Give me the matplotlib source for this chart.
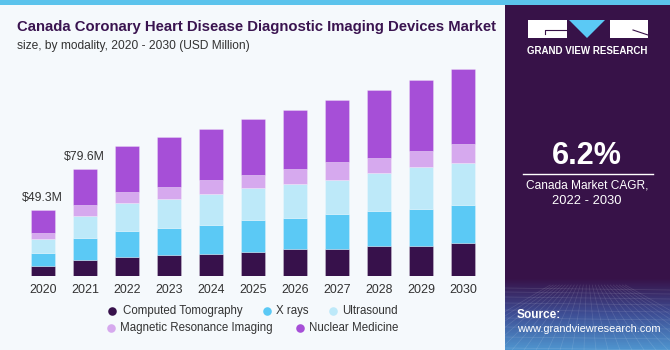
import matplotlib
matplotlib.use("Agg")
import matplotlib.pyplot as plt
import numpy as np
from matplotlib.patches import Rectangle, Polygon
from matplotlib.colors import LinearSegmentedColormap

years = ["2020", "2021", "2022", "2023", "2024", "2025", "2026", "2027", "2028", "2029", "2030"]
segments = ["Computed Tomography", "X rays", "Ultrasound", "Magnetic Resonance Imaging", "Nuclear Medicine"]
ct = [7.5, 12.1, 14.3, 15.6, 16.6, 17.8, 20.1, 20.1, 22.0, 22.0, 24.2]
xray = [9.9, 16.3, 19.1, 20.1, 21.5, 23.5, 23.0, 25.7, 26.0, 27.8, 28.8]
us = [10.2, 16.1, 20.8, 21.5, 22.5, 23.8, 25.5, 25.6, 28.2, 30.9, 31.0]
mri = [4.3, 8.2, 8.4, 8.9, 10.6, 10.2, 11.1, 13.6, 11.7, 12.4, 13.8]
nm = [17.4, 26.9, 34.0, 37.4, 37.9, 41.4, 43.6, 45.8, 50.0, 52.8, 56.0]
labels_shown = {0: "$49.3M", 1: "$79.6M"}

colors = ["#37114B", "#5BC9F5", "#BDE9F9", "#D6A9EE", "#A64FD7"]
BG = "#F5F9FC"
PANEL = "#371248"
FONT = "Liberation Sans"

W, H = 670, 350
fig = plt.figure(figsize=(W / 100, H / 100), dpi=100)
fig.patch.set_facecolor(BG)
renderer = fig.canvas.get_renderer()


def fit(t, target):
    fs = t.get_fontsize()
    w = t.get_window_extent(renderer=renderer).width
    t.set_fontsize(fs * target / w)
    return t


ov = fig.add_axes([0, 0, 1, 1], zorder=0)
ov.set_xlim(0, W)
ov.set_ylim(H, 0)
ov.axis("off")
ov.add_patch(Rectangle((0, 0), W, 5, color="#5BC3EC", lw=0))
ov.add_patch(Rectangle((505, 5), W - 505, H - 5, color=PANEL, lw=0))
grad = np.linspace(0, 1, 100)[:, None]
cmap = LinearSegmentedColormap.from_list("g", [PANEL, "#3E4E95", "#4F95CF"])
ov.imshow(grad, extent=(505, W, H, 278), aspect="auto", cmap=cmap, zorder=1)
for xs in np.linspace(440, 740, 26):
    ov.plot([587 + (xs - 587) * 0.25, xs], [285, H], color="white", alpha=0.12, lw=0.5, zorder=2)
for yy in [288, 292, 297, 303, 310, 318, 327, 337, 348]:
    ov.plot([505, W], [yy, yy + 2], color="white", alpha=0.12, lw=0.5, zorder=2)
ov.set_xlim(0, W)
ov.set_ylim(H, 0)

# logo
ov.add_patch(Rectangle((527.5, 20), 39, 17.5, color="white", lw=0, zorder=3))
ov.add_patch(Polygon([[569, 20], [605, 20], [587, 38]], closed=True, color="#5BC9F5", lw=0, zorder=3))
ov.add_patch(Rectangle((610, 20), 38, 17.5, color="white", lw=0, zorder=3))
ov.plot([545, 545, 566.5], [34, 30, 30], color=PANEL, lw=0.8, zorder=4)
ov.plot([633, 648], [30, 35], color=PANEL, lw=0.8, zorder=4)
fit(ov.text(587.5, 50.5, "GRAND VIEW RESEARCH", color="white", fontsize=7.2, fontweight="bold",
            ha="center", va="center", family=FONT, zorder=4), 121)

fit(ov.text(587, 156.5, "6.2%", color="white", fontsize=21, fontweight="bold", ha="center", va="center",
            family=FONT, zorder=4), 70)
ov.plot([522.5, 652.5], [173.5, 173.5], color="white", lw=1, zorder=4)
fit(ov.text(587, 186, "Canada Market CAGR,", color="white", fontsize=9.5, ha="center", va="center",
            family=FONT, zorder=4), 122)
ov.text(587, 201, "2022 - 2030", color="white", fontsize=9.3, ha="center", va="center",
        family=FONT, zorder=4)
ov.text(517, 315.5, "Source:", color="white", fontsize=8.6, fontweight="bold", ha="left", va="center",
        family=FONT, zorder=4)
fit(ov.text(517, 329.5, "www.grandviewresearch.com", color="white", fontsize=9, ha="left", va="center",
            family=FONT, zorder=4), 143)

# titles
fit(ov.text(17, 27.5, "Canada Coronary Heart Disease Diagnostic Imaging Devices Market", color="#3A1450",
            fontsize=12, fontweight="bold", ha="left", va="center", family=FONT, zorder=4), 480)
fit(ov.text(17, 46, "size, by modality, 2020 - 2030 (USD Million)", color="#333333", fontsize=9.3,
            ha="left", va="center", family=FONT, zorder=4), 232)

# main axes
ax = fig.add_axes([15 / W, (H - 276) / H, 475 / W, 216 / H], zorder=2)
ax.patch.set_alpha(0)
x = np.arange(len(years))
bottom = np.zeros(len(years))
for vals, c in zip([ct, xray, us, mri, nm], colors):
    ax.bar(x, vals, bottom=bottom, width=0.571, color=c, edgecolor=(1, 1, 1, 0.35), linewidth=0.5)
    bottom += np.array(vals)
ax.set_xlim(-0.671, 10.636)
ax.set_ylim(0, 160.5)
ax.axis("off")
for i, lab in labels_shown.items():
    fit(ax.text(x[i] - 0.03, bottom[i] + 8.5, lab, ha="center", va="center", fontsize=9.8, color="#333333",
                family=FONT), 41)
for i, yl in enumerate(years):
    tt = ax.text(x[i], -10.5, yl, ha="center", va="center", fontsize=10, color="#333333",
                 family=FONT, clip_on=False)
    fit(tt, 28)

# legend
leg = [(112.3, 311, 0, 123.3), (266.7, 311, 1, 275.5), (332.5, 311, 2, 341.7),
       (111, 328, 3, 120.5), (300, 328, 4, 309.3)]
probe = ov.text(0, 0, segments[0], fontsize=10, family=FONT)
lfs = 10 * 120 / probe.get_window_extent(renderer=renderer).width
probe.remove()
for cx, cy, k, tx in leg:
    ov.scatter([cx], [cy], s=38, color=colors[k], zorder=4, linewidths=0)
    ov.text(tx, cy, segments[k], ha="left", va="center", fontsize=lfs, color="#333333",
            family=FONT, zorder=4)

fig.savefig("out.png", dpi=100, facecolor=BG)
